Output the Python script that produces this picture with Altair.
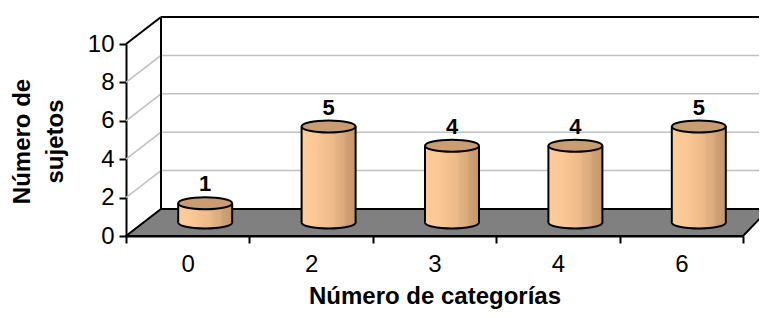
import altair as alt
import pandas as pd

# ---- data ----
categories = ["0", "2", "3", "4", "6"]
values = [1, 5, 4, 4, 5]
y_ticks = [0, 2, 4, 6, 8, 10]
grid_levels = [2, 4, 6, 8]
y_max = 10

x_title = "Número de categorías"
y_title = ["Número de", "sujetos"]

# ---- geometry / style constants ----
FONT = "Liberation Sans"
n = len(categories)
X0, X1 = -0.5, n - 0.5
PLOT_W, RANGE_W, PLOT_H = 633, 617, 192
PX_X = RANGE_W / n          # pixels per x unit
PX_Y = PLOT_H / y_max       # pixels per y unit
DX = 35 / PX_X              # depth shift (left side)
DXR = 26 / PX_X             # depth shift (right side, perspective)
DY = 27 / PX_Y
MIDX, MIDY = DX / 2, DY / 2
HALF_W = 27 / PX_X
CYL_SIZE = 54 ** 2
ELLIPSE = "M -1 0 A 1 0.22 0 1 1 1 0 A 1 0.22 0 1 1 -1 0 Z"

cyl_fill = alt.LinearGradient(
    gradient="linear", x1=0, x2=1, y1=0, y2=0,
    stops=[
        alt.GradientStop(color="#FFCC99", offset=0),
        alt.GradientStop(color="#FBC995", offset=0.25),
        alt.GradientStop(color="#F3BF8D", offset=0.45),
        alt.GradientStop(color="#ECB988", offset=0.6),
        alt.GradientStop(color="#E2B283", offset=0.65),
        alt.GradientStop(color="#DBAB7D", offset=0.78),
        alt.GradientStop(color="#D0A174", offset=0.82),
        alt.GradientStop(color="#C49668", offset=1),
    ],
)

# ---- derived tables ----
bars = pd.DataFrame({"cat": categories, "idx": list(range(n)), "value": values})
bars["xc"] = bars["idx"] + MIDX
bars["xl"] = bars["xc"] - HALF_W
bars["xr"] = bars["xc"] + HALF_W
bars["yb"] = MIDY
bars["yt"] = bars["value"] + MIDY
bars["label"] = bars["value"].astype(str)

grid = pd.DataFrame({"v": grid_levels})
grid["xa"] = X0
grid["ya"] = grid["v"]
grid["xb"] = X0 + DX
grid["yb"] = grid["v"] + DY
grid["xe"] = X1 + DX

edges = pd.DataFrame({
    "xa": [X0 + DX, X0 + DX, X0],
    "ya": [DY, y_max + DY, y_max],
    "xb": [X0 + DX, X1 + DX, X0 + DX],
    "yb": [y_max + DY, y_max + DY, y_max + DY],
})

floor = pd.DataFrame({
    "x": [X0, X0 + DX, X1, X1 + DXR],
    "y": [0, 0, 0, DY],
    "y2": [0, DY, DY, DY],
})

# ---- scales & axes ----
xscale = alt.Scale(domain=[X0, X1], range=[0, RANGE_W], nice=False, zero=False)
yscale = alt.Scale(domain=[0, y_max], nice=False, zero=False)

arr = "[" + ",".join("'" + c + "'" for c in categories) + "]"
xaxis = alt.Axis(
    values=[X0 + i for i in range(n + 1)],
    labelExpr=f"round(datum.value + 0.5) < {n} ? {arr}[round(datum.value + 0.5)] : ''",
    labelOffset=PX_X / 2, labelFlush=False, labelOverlap=False, labelBound=False,
    grid=False, domainColor="black", domainWidth=2,
    tickColor="black", tickWidth=2, tickSize=7,
    labelFont=FONT, labelFontSize=24, labelColor="black", labelPadding=9,
    title=x_title, titleFont=FONT, titleFontSize=24, titleFontWeight="bold",
    titleColor="black", titleX=308.5, titleY=67, titleBaseline="alphabetic",
    titleAlign="center",
)
yaxis = alt.Axis(
    values=y_ticks, grid=False, domainColor="black", domainWidth=2,
    tickColor="black", tickWidth=2, tickSize=7,
    labelFont=FONT, labelFontSize=24, labelColor="black", labelPadding=5,
    title=y_title, titleFont=FONT, titleFontSize=24, titleFontWeight="bold",
    titleColor="black", titleAngle=-90, titleX=-104, titleY=97,
    titleAlign="center", titleBaseline="middle", titleLineHeight=33,
)


def X(f):
    return alt.X(f"{f}:Q", scale=xscale, axis=xaxis)


def Y(f):
    return alt.Y(f"{f}:Q", scale=yscale, axis=yaxis)


# ---- layers ----
grid_diag = alt.Chart(grid).mark_rule(color="#C0C0C0", strokeWidth=1.5).encode(
    x=X("xa"), y=Y("ya"), x2=alt.X2("xb"), y2=alt.Y2("yb"))
grid_wall = alt.Chart(grid).mark_rule(color="#C0C0C0", strokeWidth=1.5).encode(
    x=X("xb"), y=Y("yb"), x2=alt.X2("xe"))
wall_edges = alt.Chart(edges).mark_rule(color="black", strokeWidth=2).encode(
    x=X("xa"), y=Y("ya"), x2=alt.X2("xb"), y2=alt.Y2("yb"))
floor_area = alt.Chart(floor).mark_area(
    color="#808080", fill="#808080", stroke="black", strokeWidth=2,
    interpolate="linear", opacity=1).encode(
    x=X("x"), y=Y("y"), y2=alt.Y2("y2"))

cyl_bottom = alt.Chart(bars).mark_point(
    shape=ELLIPSE, size=CYL_SIZE, filled=True, fill=cyl_fill, opacity=1,
    stroke="black", strokeWidth=2).encode(x=X("xc"), y=Y("yb"))
cyl_body = alt.Chart(bars).mark_rect(fill=cyl_fill, strokeWidth=0).encode(
    x=X("xl"), x2=alt.X2("xr"), y=Y("yb"), y2=alt.Y2("yt"))
cyl_left = alt.Chart(bars).mark_rule(color="black", strokeWidth=2).encode(
    x=X("xl"), y=Y("yb"), y2=alt.Y2("yt"))
cyl_right = alt.Chart(bars).mark_rule(color="black", strokeWidth=2).encode(
    x=X("xr"), y=Y("yb"), y2=alt.Y2("yt"))
cyl_top = alt.Chart(bars).mark_point(
    shape=ELLIPSE, size=CYL_SIZE, filled=True, fill="#C99C72", opacity=1,
    stroke="black", strokeWidth=2).encode(x=X("xc"), y=Y("yt"))
labels = alt.Chart(bars).mark_text(
    font=FONT, fontSize=22, fontWeight="bold", color="black",
    baseline="alphabetic", align="center", dy=-12).encode(
    x=X("xc"), y=Y("yt"), text="label:N")

chart = alt.layer(
    grid_diag, grid_wall, wall_edges, floor_area,
    cyl_bottom, cyl_body, cyl_left, cyl_right, cyl_top, labels,
).properties(
    width=PLOT_W, height=PLOT_H,
    autosize=alt.AutoSizeParams(type="none"),
    padding={"left": 118, "top": 36, "right": 0, "bottom": 74},
    background="white",
).configure_view(stroke=None)

chart.save("out.html", embed_options={"renderer": "svg", "actions": False})
